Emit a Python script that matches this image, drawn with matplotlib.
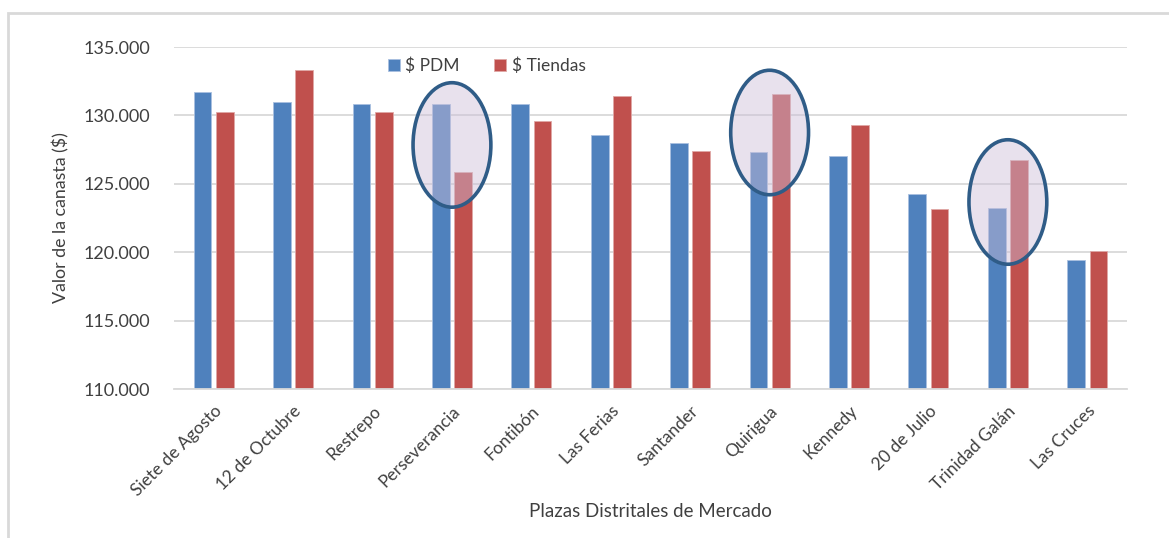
import numpy as np
import matplotlib
matplotlib.use('Agg')
from matplotlib import pyplot as plt
from matplotlib.patches import Ellipse, Rectangle
from matplotlib.ticker import FuncFormatter, MultipleLocator

plt.rcParams['font.family'] = ['Lato', 'DejaVu Sans']

# Datos
plazas = ['Siete de Agosto', '12 de Octubre', 'Restrepo', 'Perseverancia', 'Fontibón',
          'Las Ferias', 'Santander', 'Quirigua', 'Kennedy', '20 de Julio',
          'Trinidad Galán', 'Las Cruces']
pdm = [131700, 131000, 130850, 130850, 130800, 128600, 127980, 127300, 127060, 124230, 123200, 119400]
tiendas = [130250, 133300, 130250, 125860, 129570, 131440, 127370, 131600, 129320, 123130, 126710, 120060]

# plazas resaltadas y centro vertical de cada elipse
resaltadas = ['Perseverancia', 'Quirigua', 'Trinidad Galán']
centro_elipse = [127840, 128750, 123670]

azul = '#4F81BD'
rojo = '#C0504D'
gris = '#404040'

fig = plt.figure(figsize=(11.69, 5.38), dpi=100)
ax = fig.add_axes([174 / 1169, 1 - 389 / 538, 953 / 1169, 342 / 538])

x = np.arange(len(plazas))
ancho = 0.223
ax.bar(x - 0.14, [v - 110000 for v in pdm], ancho, bottom=110000, color=azul,
       edgecolor='#A9C0E0', linewidth=0.6, label='$ PDM', zorder=2)
ax.bar(x + 0.14, [v - 110000 for v in tiendas], ancho, bottom=110000, color=rojo,
       edgecolor='#E0A8A6', linewidth=0.6, label='$ Tiendas', zorder=2)

for nombre, yc in zip(resaltadas, centro_elipse):
    i = plazas.index(nombre)
    ax.add_patch(Ellipse((i, yc), 0.98, 9100, facecolor=(0.80, 0.745, 0.85, 0.45),
                         edgecolor='#2F5C87', linewidth=2.6, zorder=3))

ax.set_xlim(-0.5, len(plazas) - 0.5)
ax.set_ylim(110000, 135000)
ax.yaxis.set_major_locator(MultipleLocator(5000))
ax.yaxis.set_major_formatter(FuncFormatter(lambda v, p: f'{v:,.0f}'.replace(',', '.')))
ax.grid(axis='y', color='#D9D9D9', linewidth=1.3, zorder=0)
ax.set_axisbelow(True)
for s in ['top', 'right', 'left']:
    ax.spines[s].set_visible(False)
ax.spines['bottom'].set_color('#D9D9D9')
ax.spines['bottom'].set_linewidth(1.3)
ax.tick_params(length=0, labelsize=13, colors=gris)
ax.tick_params(axis='y', pad=17)
ax.tick_params(axis='x', pad=10)
ax.set_xticks(x)
ax.set_xticklabels(plazas, rotation=45, ha='right', rotation_mode='anchor', fontsize=12.5)

ax.set_ylabel('Valor de la canasta ($)', fontsize=12.8, color=gris, labelpad=10)
ax.set_xlabel('Plazas Distritales de Mercado', fontsize=13.5, color=gris, labelpad=3)

ax.legend(loc='center', bbox_to_anchor=(0.328, 0.944), ncol=2, frameon=False,
          fontsize=12.5, handlelength=0.7, handleheight=0.7, handletextpad=0.3,
          columnspacing=2.0, labelcolor=gris)

# marco del gráfico
fig.patches.append(Rectangle((8 / 1169, -0.1), 1.2, 1 - 13 / 538 + 0.1,
                             transform=fig.transFigure, fill=False,
                             edgecolor='#D9D9D9', linewidth=2))

fig.savefig('out.png', dpi=100)
